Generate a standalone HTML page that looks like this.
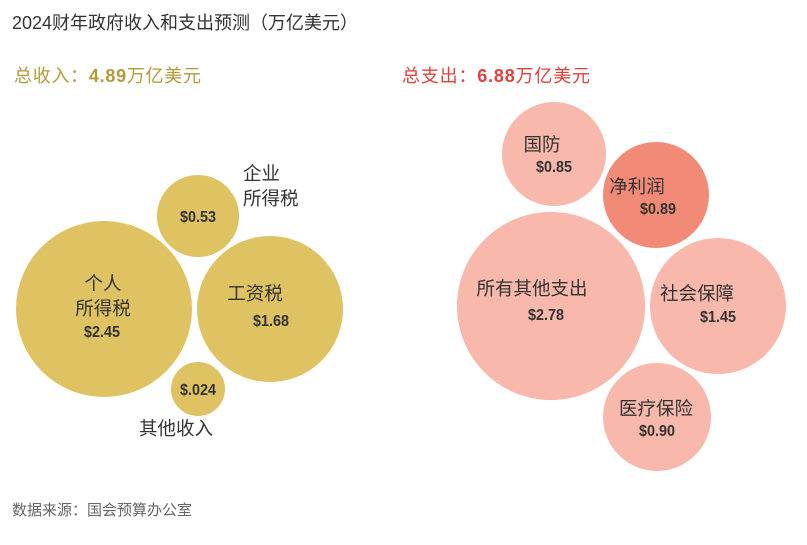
<!DOCTYPE html>
<html><head><meta charset="utf-8"><style>
body{margin:0;background:#fff;width:807px;height:540px;overflow:hidden;font-family:"Liberation Sans","Noto Sans CJK SC",sans-serif;}
</style></head><body>
<svg width="807" height="540" xmlns="http://www.w3.org/2000/svg" font-family="Liberation Sans, Noto Sans CJK SC, sans-serif">
<text x="12" y="29" font-size="18" fill="#333">2024财年政府收入和支出预测（万亿美元）</text>
<text x="14" y="82" font-size="18" fill="#b39a3a" textLength="187" lengthAdjust="spacing">总收入：<tspan font-weight="bold">4.89</tspan>万亿美元</text>
<text x="402" y="82" font-size="18" fill="#e0403a" textLength="188" lengthAdjust="spacing">总支出：<tspan font-weight="bold">6.88</tspan>万亿美元</text>
<g fill="#dfc262">
<circle cx="104" cy="309" r="88"/><circle cx="198" cy="216" r="41"/><circle cx="270" cy="309" r="73"/><circle cx="198" cy="389" r="27"/>
</g>
<g fill="#f8b8ab">
<circle cx="551" cy="306" r="94"/><circle cx="554" cy="154" r="52"/><circle cx="718" cy="306" r="68"/><circle cx="657" cy="417" r="54"/>
</g>
<circle cx="656" cy="195" r="53" fill="#f28a78"/>
<g font-size="18.5" fill="#333" text-anchor="middle">
<text x="103" y="290">个人</text><text x="103" y="315">所得税</text>
<text x="255" y="300">工资税</text>
<text x="243" y="180" text-anchor="start">企业</text><text x="243" y="205" text-anchor="start">所得税</text>
<text x="176" y="435">其他收入</text>
<text x="532" y="295">所有其他支出</text>
<text x="542" y="151">国防</text>
<text x="637" y="193">净利润</text>
<text x="697" y="300">社会保障</text>
<text x="656" y="415">医疗保险</text>
</g>
<g font-size="16" font-weight="bold" fill="#333" text-anchor="middle">
<text x="102" y="337" textLength="36" lengthAdjust="spacingAndGlyphs">$2.45</text>
<text x="198" y="222" textLength="36" lengthAdjust="spacingAndGlyphs">$0.53</text>
<text x="271" y="326" textLength="36" lengthAdjust="spacingAndGlyphs">$1.68</text>
<text x="198" y="395" textLength="36" lengthAdjust="spacingAndGlyphs">$.024</text>
<text x="546" y="320" textLength="36" lengthAdjust="spacingAndGlyphs">$2.78</text>
<text x="554" y="172" textLength="36" lengthAdjust="spacingAndGlyphs">$0.85</text>
<text x="658" y="214" textLength="36" lengthAdjust="spacingAndGlyphs">$0.89</text>
<text x="718" y="322" textLength="36" lengthAdjust="spacingAndGlyphs">$1.45</text>
<text x="657" y="436" textLength="36" lengthAdjust="spacingAndGlyphs">$0.90</text>
</g>
<text x="12" y="515" font-size="15" fill="#666">数据来源：国会预算办公室</text>
</svg>
</body></html>
